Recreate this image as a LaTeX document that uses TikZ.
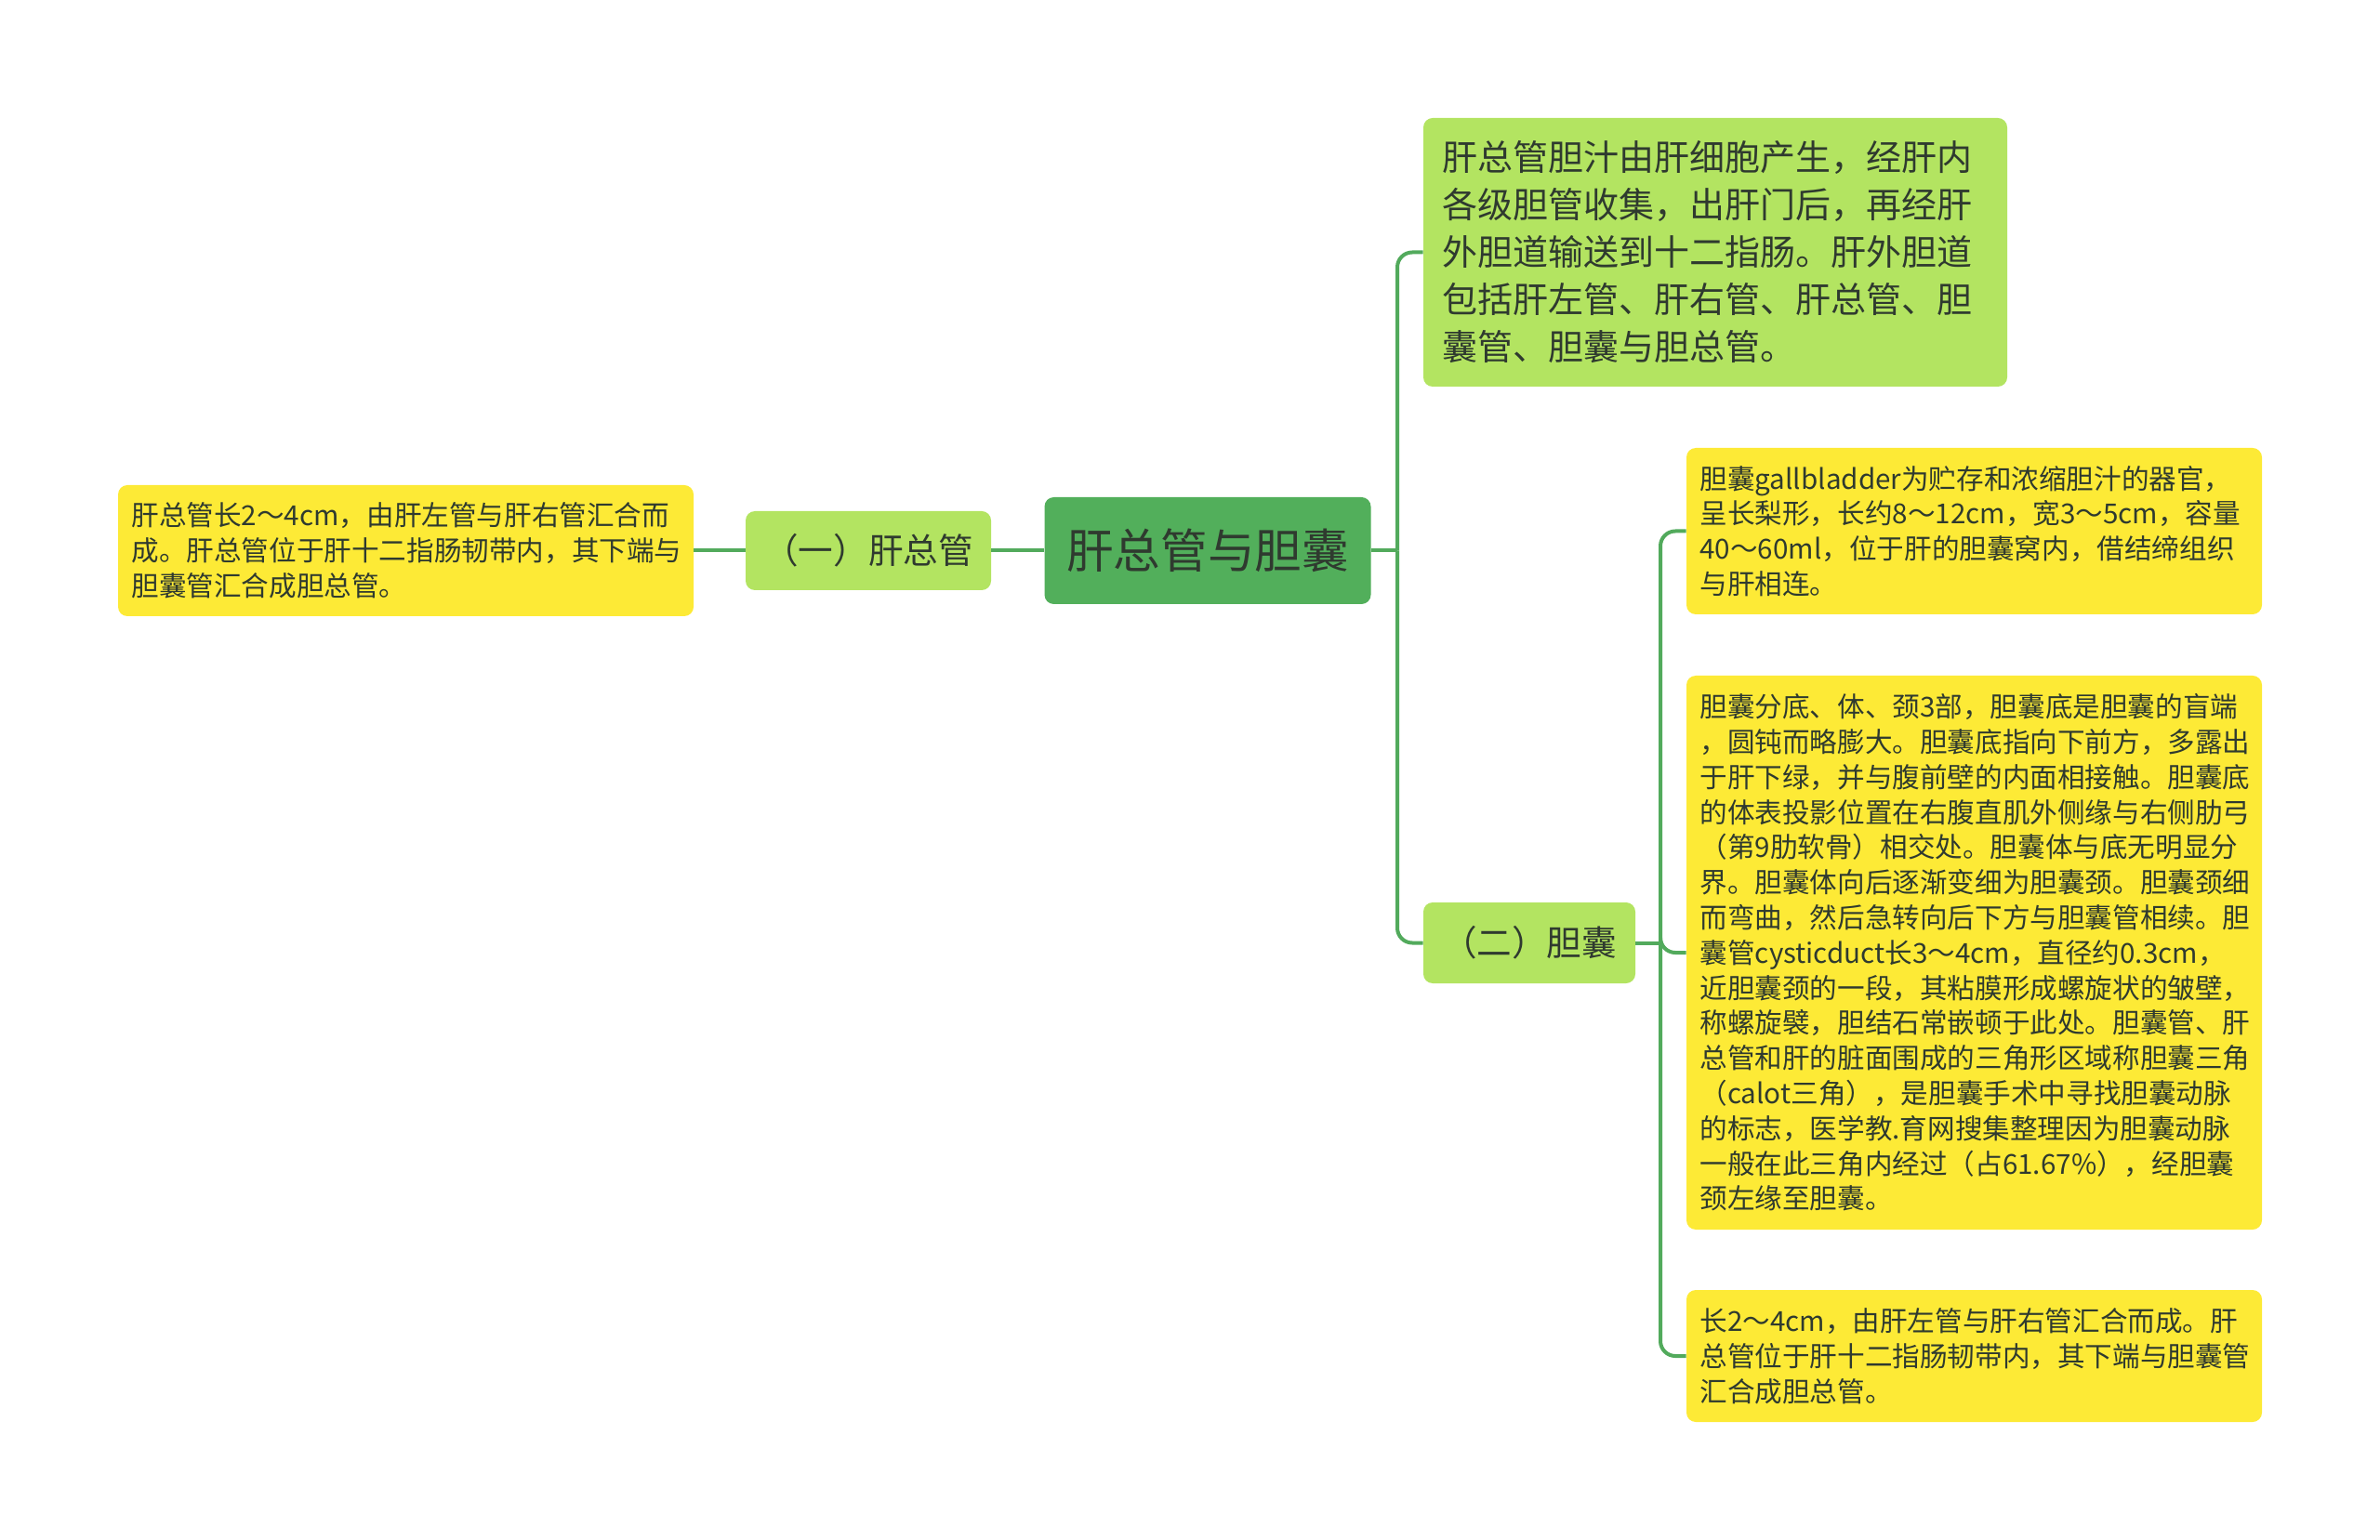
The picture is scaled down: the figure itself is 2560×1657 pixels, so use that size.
\documentclass[tikz,border=0pt]{standalone}
\usepackage{fontspec}
\newfontfamily\cjk{Noto Sans CJK SC}
\definecolor{rootgreen}{HTML}{52AF5B}
\definecolor{midgreen}{HTML}{B3E461}
\definecolor{leafyellow}{HTML}{FDEA36}
\definecolor{linegreen}{HTML}{52AA5C}
\definecolor{textdark}{HTML}{2F3A2F}
\begin{document}
\begin{tikzpicture}[
                    x=0.5pt, y=-0.5pt,
                    every node/.style={rounded corners=5pt, text=textdark, inner sep=0pt, align=left},
                    rootbox/.style={fill=rootgreen, minimum width=175.5pt, minimum height=57.5pt,
                        align=center, font=\cjk\fontsize{25.3}{30}\selectfont},
                    midbox/.style={fill=midgreen, align=center, font=\cjk\fontsize{18.8}{23}\selectfont},
                    notebox/.style={fill=midgreen, text width=294pt, inner xsep=10pt,
                        font=\cjk\fontsize{19}{25.5}\selectfont},
                    leafbox/.style={fill=leafyellow, text width=295pt, inner xsep=7.25pt,
                        font=\cjk\fontsize{14.8}{18.9}\selectfont},
                    link/.style={draw=linegreen, line width=2pt, rounded corners=8pt}
                ]
                \useasboundingbox (0,0) rectangle (2560,1657);
                \node[rootbox] (gan) at (1299,592.5) {肝总管与胆囊};
                \node[midbox, minimum width=132pt, minimum height=42.5pt] (ganzong) at (934,592.5) {（一）肝总管};
                \node[leafbox, minimum height=70.5pt] (ganzongnote) at (436.5,592.5) {肝总管长2～4cm，由肝左管与肝右管汇合而\\
                    成。肝总管位于肝十二指肠韧带内，其下端与\\
                    胆囊管汇合成胆总管。};
                \node[notebox, minimum height=144.5pt] (dandao) at (1845,271.5) {肝总管胆汁由肝细胞产生，经肝内\\
                    各级胆管收集，出肝门后，再经肝\\
                    外胆道输送到十二指肠。肝外胆道\\
                    包括肝左管、肝右管、肝总管、胆\\
                    囊管、胆囊与胆总管。};
                \node[midbox, minimum width=114pt, minimum height=43.5pt] (dannang) at (1645,1014.5) {（二）胆囊};
                \node[leafbox, minimum height=89.5pt] (dannangshape) at (2123.5,571.5) {胆囊gallbladder为贮存和浓缩胆汁的器官，\\
                    呈长梨形，长约8～12cm，宽3～5cm，容量\\
                    40～60ml，位于肝的胆囊窝内，借结缔组织\\
                    与肝相连。};
                \node[leafbox, minimum height=298pt] (dannangpart) at (2123.5,1025) {胆囊分底、体、颈3部，胆囊底是胆囊的盲端\\
                    ，圆钝而略膨大。胆囊底指向下前方，多露出\\
                    于肝下绿，并与腹前壁的内面相接触。胆囊底\\
                    的体表投影位置在右腹直肌外侧缘与右侧肋弓\\
                    （第9肋软骨）相交处。胆囊体与底无明显分\\
                    界。胆囊体向后逐渐变细为胆囊颈。胆囊颈细\\
                    而弯曲，然后急转向后下方与胆囊管相续。胆\\
                    囊管cysticduct长3～4cm，直径约0.3cm，\\
                    近胆囊颈的一段，其粘膜形成螺旋状的皱壁，\\
                    称螺旋襞，胆结石常嵌顿于此处。胆囊管、肝\\
                    总管和肝的脏面围成的三角形区域称胆囊三角\\
                    （calot三角），是胆囊手术中寻找胆囊动脉\\
                    的标志，医学教.育网搜集整理因为胆囊动脉\\
                    一般在此三角内经过（占61.67\%），经胆囊\\
                    颈左缘至胆囊。};
                \node[leafbox, minimum height=71pt] (ganzongmore) at (2123.5,1459) {长2～4cm，由肝左管与肝右管汇合而成。肝\\
                    总管位于肝十二指肠韧带内，其下端与胆囊管\\
                    汇合成胆总管。};
                % connectors
                \coordinate (ganfork) at (1503,592.5);
                \coordinate (dannangfork) at (1786,1014.5);
                \draw[link] (gan.west) -- (ganzong.east);
                \draw[link] (ganzong.west) -- (ganzongnote.east);
                \draw[link] (gan.east) -- (ganfork);
                \draw[link] (ganfork) |- (dandao.west);
                \draw[link] (ganfork) |- (dannang.west);
                \draw[link] (dannang.east) -- (dannangfork);
                \draw[link] (dannangfork) |- (dannangshape.west);
                \draw[link] (dannangfork) |- (dannangpart.west);
                \draw[link] (dannangfork) |- (ganzongmore.west);
\end{tikzpicture}
\end{document}
